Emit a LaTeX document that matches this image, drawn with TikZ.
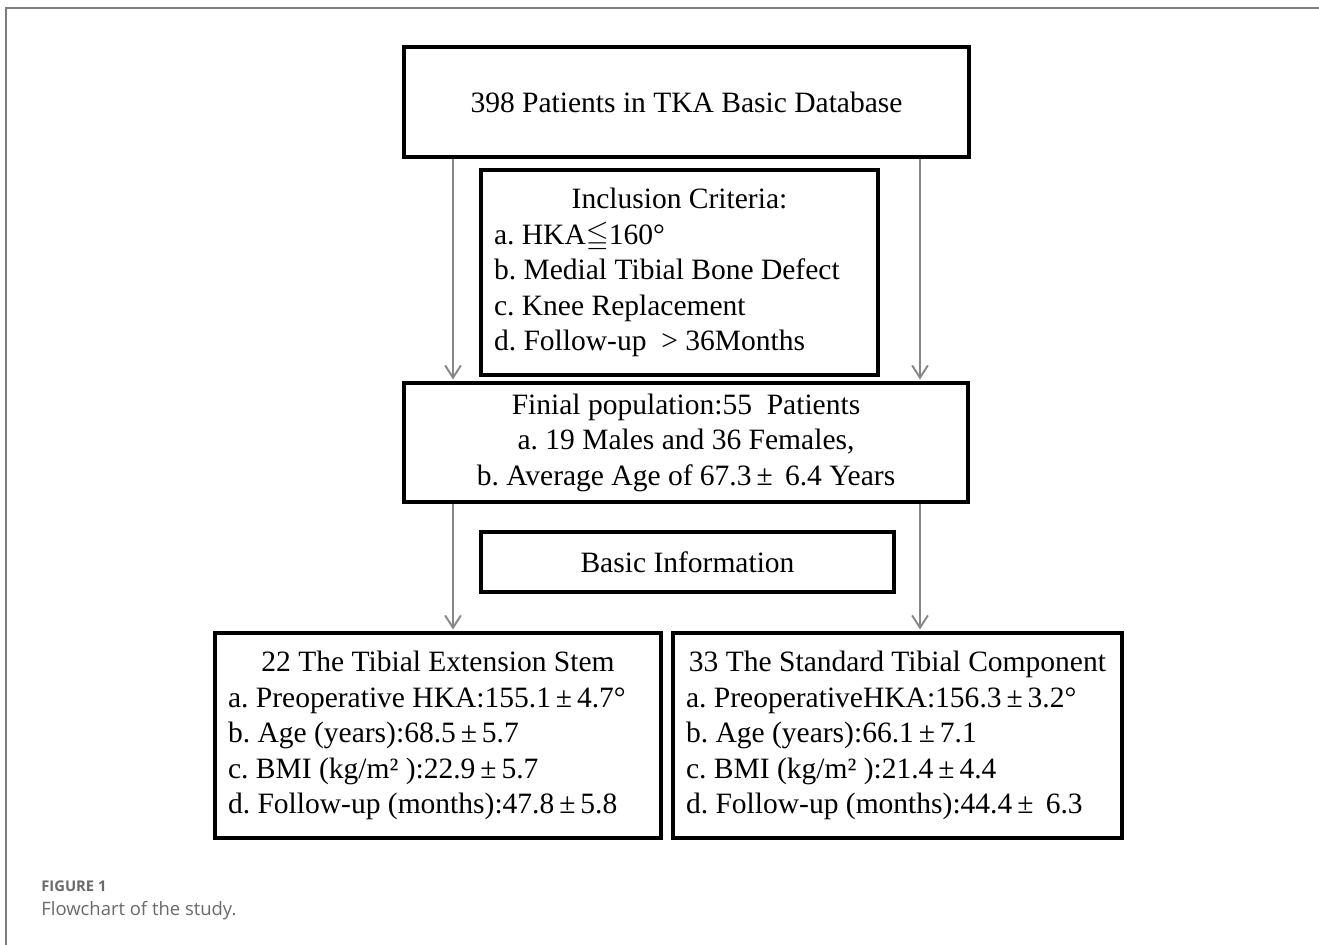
\documentclass[tikz,border=0pt]{standalone}
\usepackage{amsmath, amssymb}
\usepackage{fontspec}
\setmainfont{Liberation Serif}
\newfontfamily\capfont{Open Sans}
\usepackage{xcolor}
\usetikzlibrary{positioning, arrows.meta}
\definecolor{arrowgray}{RGB}{135,135,135}
\definecolor{framegray}{RGB}{125,125,125}
\definecolor{capgray}{RGB}{105,105,105}
\frenchspacing

\begin{document}
\begin{tikzpicture}[x=0.02cm, y=-0.02cm,
		box/.style={draw, rectangle, line width=2pt, inner sep=0pt, font=\fontsize{16.8}{20.2}\selectfont},
		listbox/.style={box, align=flush left, inner xsep=0.26cm, execute at begin node={\spaceskip=0pt\xspaceskip=0pt}},
		flow/.style={draw=arrowgray, line width=1.1pt, shorten >=1pt, -{Straight Barb[length=7pt, width=9pt]}},
		caption/.style={anchor=base west, inner sep=0pt, text=capgray}]
				\useasboundingbox (0,0) rectangle (1319,945);
				\draw[framegray, line width=1.2pt] (6,945) -- (6,8) -- (1319,8);
				
				\node[box, minimum width=11.3cm, minimum height=2.2cm] (raw) at (686.5,102) {398 Patients in TKA Basic Database};
				\node[listbox, text width=7.42cm, minimum height=4.1cm] (incl) at (679.5,272.5) {\makebox[\linewidth][c]{Inclusion Criteria:}\\
					a. HKA$\leqq$160\textdegree\\
					b. Medial Tibial Bone Defect\\
					c. Knee Replacement\\
					d. Follow-up \ > 36Months};
				\node[box, align=center, minimum width=11.28cm, minimum height=2.38cm] (pop) at (686,442.5) {Finial population:55 \ Patients\\
					a. 19 Males and 36 Females,\\
					b. Average Age of 67.3\,±\ \,6.4 Years};
				\node[box, minimum width=8.26cm, minimum height=1.2cm] (info) at (687.5,562) {Basic Information};
				\node[listbox, text width=8.4cm, minimum height=4.1cm] (stem) at (438,735.5) {\makebox[\linewidth][c]{22 The Tibial Extension Stem}\\
					a. Preoperative HKA:155.1\,±\,4.7\textdegree\\
					b. Age (years):68.5\,±\,5.7\\
					c. BMI (kg/m² ):22.9\,±\,5.7\\
					d. Follow-up (months):47.8\,±\,5.8};
				\node[listbox, text width=8.46cm, minimum height=4.1cm] (std) at (897.5,735.5) {\makebox[\linewidth][c]{33 The Standard Tibial Component}\\
					a. PreoperativeHKA:156.3\,±\,3.2\textdegree\\
					b. Age (years):66.1\,±\,7.1\\
					c. BMI (kg/m² ):21.4\,±\,4.4\\
					d. Follow-up (months):44.4\,± \,6.3};
				
				\coordinate (lx) at (453,0);
				\coordinate (rx) at (920,0);
				\draw[flow] (lx |- raw.south) -- (lx |- pop.north);
				\draw[flow] (rx |- raw.south) -- (rx |- pop.north);
				\draw[flow] (lx |- pop.south) -- (lx |- stem.north);
				\draw[flow] (rx |- pop.south) -- (rx |- std.north);
				
				\node[caption, font=\capfont\bfseries\fontsize{8.4}{10}\selectfont] (fig) at (41,891) {FIGURE 1};
				\node[caption, font=\capfont\fontsize{10.5}{12}\selectfont] (cap) at (41,915) {Flowchart of the study.};
			\end{tikzpicture}
\end{document}
